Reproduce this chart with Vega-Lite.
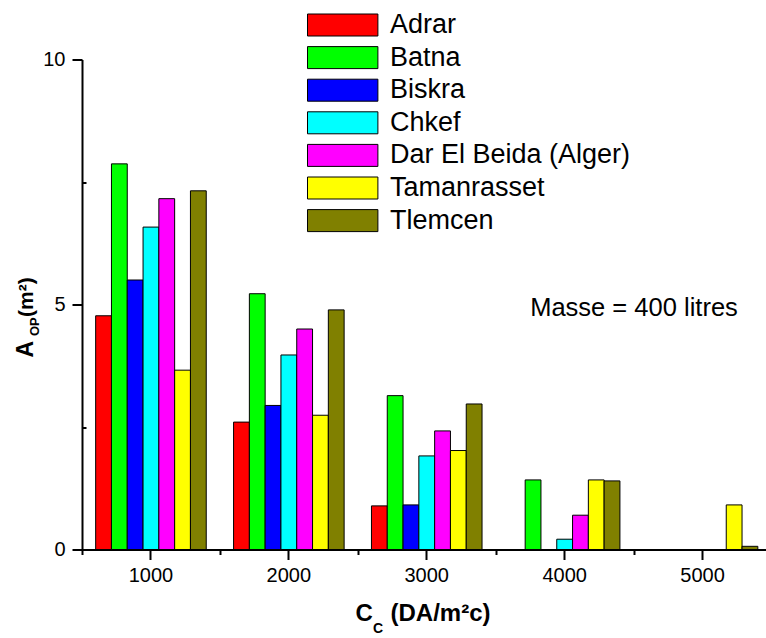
{
  "$schema": "https://vega.github.io/schema/vega-lite/v6.json",
  "width": 684,
  "height": 490,
  "autosize": {"type": "none"},
  "padding": {"left": 82, "top": 59.5, "right": 0, "bottom": 88.5},
  "background": "white",
  "config": {
    "view": {"stroke": null},
    "font": "Liberation Sans",
    "axis": {"grid": false, "domainColor": "black", "tickColor": "black", "labelColor": "black", "titleColor": "black", "labelFont": "Liberation Sans", "titleFont": "Liberation Sans"}
  },
  "layer": [
    {
      "data": {
        "values": [
          {"Cc": 1000, "Region": "Adrar", "A": 4.77},
          {"Cc": 1000, "Region": "Batna", "A": 7.87},
          {"Cc": 1000, "Region": "Biskra", "A": 5.50},
          {"Cc": 1000, "Region": "Chkef", "A": 6.58},
          {"Cc": 1000, "Region": "Dar El Beida (Alger)", "A": 7.16},
          {"Cc": 1000, "Region": "Tamanrasset", "A": 3.66},
          {"Cc": 1000, "Region": "Tlemcen", "A": 7.32},
          {"Cc": 2000, "Region": "Adrar", "A": 2.60},
          {"Cc": 2000, "Region": "Batna", "A": 5.22},
          {"Cc": 2000, "Region": "Biskra", "A": 2.94},
          {"Cc": 2000, "Region": "Chkef", "A": 3.97},
          {"Cc": 2000, "Region": "Dar El Beida (Alger)", "A": 4.50},
          {"Cc": 2000, "Region": "Tamanrasset", "A": 2.74},
          {"Cc": 2000, "Region": "Tlemcen", "A": 4.89},
          {"Cc": 3000, "Region": "Adrar", "A": 0.89},
          {"Cc": 3000, "Region": "Batna", "A": 3.14},
          {"Cc": 3000, "Region": "Biskra", "A": 0.91},
          {"Cc": 3000, "Region": "Chkef", "A": 1.91},
          {"Cc": 3000, "Region": "Dar El Beida (Alger)", "A": 2.42},
          {"Cc": 3000, "Region": "Tamanrasset", "A": 2.02},
          {"Cc": 3000, "Region": "Tlemcen", "A": 2.97},
          {"Cc": 4000, "Region": "Batna", "A": 1.42},
          {"Cc": 4000, "Region": "Chkef", "A": 0.21},
          {"Cc": 4000, "Region": "Dar El Beida (Alger)", "A": 0.70},
          {"Cc": 4000, "Region": "Tamanrasset", "A": 1.42},
          {"Cc": 4000, "Region": "Tlemcen", "A": 1.40},
          {"Cc": 5000, "Region": "Tamanrasset", "A": 0.91},
          {"Cc": 5000, "Region": "Tlemcen", "A": 0.065}
        ]
      },
      "mark": {"type": "bar", "stroke": "black", "strokeWidth": 1, "opacity": 1},
      "encoding": {
        "x": {
          "field": "Cc", "type": "ordinal",
          "scale": {"domain": [1000, 2000, 3000, 4000, 5000], "range": [0, 689.5], "paddingInner": 0, "paddingOuter": 0},
          "axis": {"labelAngle": 0, "labelFontSize": 20, "labelPadding": 6, "tickSize": 10, "tickWidth": 2, "domainWidth": 2, "zindex": 1,
                   "title": "C", "titleFontSize": 24, "titleFontWeight": "bold", "titleX": 273, "titleY": 70.5, "titleAlign": "left", "titleBaseline": "alphabetic", "titleAnchor": null}
        },
        "xOffset": {
          "field": "Region", "type": "nominal",
          "scale": {"domain": ["Adrar", "Batna", "Biskra", "Chkef", "Dar El Beida (Alger)", "Tamanrasset", "Tlemcen"], "paddingInner": 0, "paddingOuter": 0.865}
        },
        "y": {
          "field": "A", "type": "quantitative",
          "scale": {"domain": [0, 10], "nice": false, "zero": true},
          "axis": {"values": [0, 5, 10], "labelFontSize": 20, "labelPadding": 7, "tickSize": 10, "tickWidth": 2, "domainWidth": 2, "zindex": 1,
                   "title": "A", "titleFontSize": 23, "titleFontWeight": "bold", "titleAngle": -90, "titleX": -50, "titleY": 297.5, "titleAlign": "left", "titleBaseline": "alphabetic", "titleAnchor": null}
        },
        "color": {
          "field": "Region", "type": "nominal",
          "scale": {"domain": ["Adrar", "Batna", "Biskra", "Chkef", "Dar El Beida (Alger)", "Tamanrasset", "Tlemcen"],
                    "range": ["#ff0000", "#00ff00", "#0000ff", "#00ffff", "#ff00ff", "#ffff00", "#808000"]},
          "legend": {
            "orient": "none", "legendX": 247.2, "legendY": -48, "title": null,
            "symbolType": "M-3.2,-1L3.2,-1L3.2,1L-3.2,1Z", "symbolSize": 484,
            "symbolStrokeColor": "black", "symbolStrokeWidth": 1, "symbolOpacity": 1,
            "labelFontSize": 27, "labelOffset": 33.8, "labelColor": "black", "rowPadding": 4.6, "labelLimit": 400
          }
        }
      }
    },
    {
      "data": {"values": [{"note": "Masse = 400 litres"}]},
      "mark": {"type": "text", "align": "left", "baseline": "middle", "fontSize": 25.5, "font": "Liberation Sans", "color": "black"},
      "encoding": {
        "text": {"field": "note", "type": "nominal"},
        "x": {
          "datum": 3750, "type": "quantitative",
          "scale": {"domain": [500, 5500], "range": [0, 689.5], "nice": false, "zero": false},
          "axis": {"orient": "bottom", "values": [500, 1500, 2500, 3500, 4500, 5500], "labels": false, "domain": false, "tickSize": 5, "tickWidth": 2,
                   "title": "C", "titleFontSize": 14, "titleFontWeight": "bold", "titleX": 290.5, "titleY": 83, "titleAlign": "left", "titleBaseline": "alphabetic", "titleAnchor": null}
        },
        "y": {
          "datum": 4.93, "type": "quantitative",
          "scale": {"domain": [0, 10], "nice": false, "zero": true},
          "axis": {"orient": "left", "values": [2.5, 7.5], "labels": false, "domain": false, "tickSize": -4, "tickWidth": 2,
                   "title": "OP", "titleFontSize": 13, "titleFontWeight": "bold", "titleAngle": -90, "titleX": -44, "titleY": 276, "titleAlign": "left", "titleBaseline": "alphabetic", "titleAnchor": null}
        }
      }
    },
    {
      "data": {"values": [{"k": 1}]},
      "mark": {"type": "rule", "opacity": 0},
      "encoding": {
        "x": {
          "datum": 1000, "type": "quantitative",
          "scale": {"domain": [500, 5500], "range": [0, 689.5], "nice": false, "zero": false},
          "axis": {"orient": "bottom", "labels": false, "ticks": false, "domain": false,
                   "title": "(DA/m²c)", "titleFontSize": 24, "titleFontWeight": "bold", "titleX": 308, "titleY": 70.5, "titleAlign": "left", "titleBaseline": "alphabetic", "titleAnchor": null}
        },
        "y": {
          "datum": 0, "type": "quantitative",
          "scale": {"domain": [0, 10], "nice": false, "zero": true},
          "axis": {"orient": "left", "labels": false, "ticks": false, "domain": false,
                   "title": "(m²)", "titleFontSize": 21, "titleFontWeight": "bold", "titleAngle": -90, "titleX": -50, "titleY": 257, "titleAlign": "left", "titleBaseline": "alphabetic", "titleAnchor": null}
        },
        "y2": {"datum": 0}
      }
    }
  ],
  "resolve": {"scale": {"x": "independent", "y": "independent"}, "axis": {"x": "independent", "y": "independent"}}
}
